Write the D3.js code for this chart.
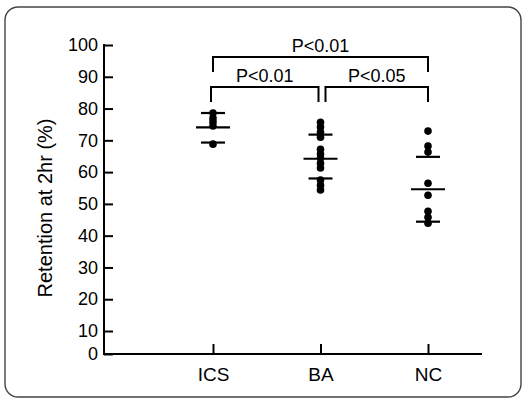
<!DOCTYPE html>
<html>
<head>
<meta charset="utf-8">
<script src="https://cdn.jsdelivr.net/npm/d3@7"></script>
<style>
html,body{margin:0;padding:0;background:#fff;}
svg{display:block;}
text{font-family:"Liberation Sans",Arial,Helvetica,sans-serif;fill:#000;}
</style>
</head>
<body>
<svg id="chart" width="525" height="399"></svg>
<script>
const categories = ["ICS", "BA", "NC"];
const icsValues = [78.6, 77.0, 75.8, 74.5, 68.8];
const baValues = [75.7, 74.2, 72.6, 71.0, 67.2, 65.7, 64.4, 62.8, 61.3, 57.5, 55.9, 54.4];
const ncValues = [72.9, 68.2, 66.3, 56.5, 52.7, 47.7, 45.8, 43.9];
const means = [74.1, 64.2, 54.6];
const upperSD = [78.6, 71.8, 64.8];
const lowerSD = [69.3, 58.0, 44.4];
const yTicks = [0, 10, 20, 30, 40, 50, 60, 70, 80, 90, 100];
const comparisons = [
  {from: "ICS", to: "NC", label: "P<0.01", level: 0},
  {from: "ICS", to: "BA", label: "P<0.01", level: 1},
  {from: "BA", to: "NC", label: "P<0.05", level: 1}
];
const seriesValues = [icsValues, baValues, ncValues];

const svg = d3.select("#chart");

// frame
svg.append("rect").attr("x", 5).attr("y", 7).attr("width", 516).attr("height", 390)
  .attr("rx", 13).attr("ry", 13).attr("fill", "none").attr("stroke", "#444").attr("stroke-width", 1.4);

const x = d3.scalePoint().domain(categories).range([213, 428]);
// axis in original is compressed between 0 and 10
const y = d3.scaleLinear().domain([0, 10, 100]).range([354, 331, 45]);

const axisLeft = 104, axisRight = 482;

// Y axis
const gy = svg.append("g").attr("transform", `translate(${axisLeft},0)`);
gy.call(d3.axisLeft(y).tickValues(yTicks).tickSize(-9).tickPadding(6).tickFormat(d3.format("d")));
gy.select(".domain").remove();
gy.selectAll(".tick line").attr("stroke", "#000").attr("stroke-width", 2);
gy.selectAll(".tick text").attr("font-size", 18);
gy.append("line").attr("x1", 0).attr("x2", 0).attr("y1", y(100) - 1).attr("y2", y(0) + 1)
  .attr("stroke", "#000").attr("stroke-width", 2);

// X axis
const gx = svg.append("g").attr("transform", `translate(0,${y(0)})`);
gx.call(d3.axisBottom(x).tickSize(-10).tickPadding(14));
gx.select(".domain").remove();
gx.selectAll(".tick line").attr("stroke", "#000").attr("stroke-width", 2);
gx.selectAll(".tick text").attr("font-size", 19).attr("dy", "0.71em");
gx.append("line").attr("x1", axisLeft - 1).attr("x2", axisRight).attr("y1", 0).attr("y2", 0)
  .attr("stroke", "#000").attr("stroke-width", 2);

// Y title
svg.append("text").attr("transform", `translate(52,208) rotate(-90)`)
  .attr("text-anchor", "middle").attr("font-size", 20).text("Retention at 2hr (%)");

// points
categories.forEach((c, i) => {
  svg.append("g").selectAll("circle").data(seriesValues[i]).join("circle")
    .attr("cx", x(c)).attr("cy", d => y(d)).attr("r", 3.8).attr("fill", "#000");
});

// mean and SD lines
const meanHalf = 17, sdHalf = 12;
categories.forEach((c, i) => {
  svg.append("line").attr("x1", x(c) - meanHalf).attr("x2", x(c) + meanHalf)
    .attr("y1", y(means[i])).attr("y2", y(means[i])).attr("stroke", "#000").attr("stroke-width", 2.2);
  [upperSD[i], lowerSD[i]].forEach(v => {
    svg.append("line").attr("x1", x(c) - sdHalf).attr("x2", x(c) + sdHalf)
      .attr("y1", y(v)).attr("y2", y(v)).attr("stroke", "#000").attr("stroke-width", 2.2);
  });
});

// significance brackets
const levelY = [57, 87];
const drop = 15;
comparisons.forEach(cmp => {
  let x1 = x(cmp.from), x2 = x(cmp.to);
  if (cmp.level === 1) {
    if (cmp.from === "ICS") { x1 -= 2; x2 -= 2; } else { x1 += 5; }
  }
  const yy = levelY[cmp.level];
  svg.append("path").attr("d", `M${x1},${yy + drop}V${yy}H${x2}V${yy + drop}`)
    .attr("fill", "none").attr("stroke", "#000").attr("stroke-width", 2);
  svg.append("text").attr("x", (x1 + x2) / 2).attr("y", yy - 5)
    .attr("text-anchor", "middle").attr("font-size", 18).text(cmp.label);
});
</script>
</body>
</html>
